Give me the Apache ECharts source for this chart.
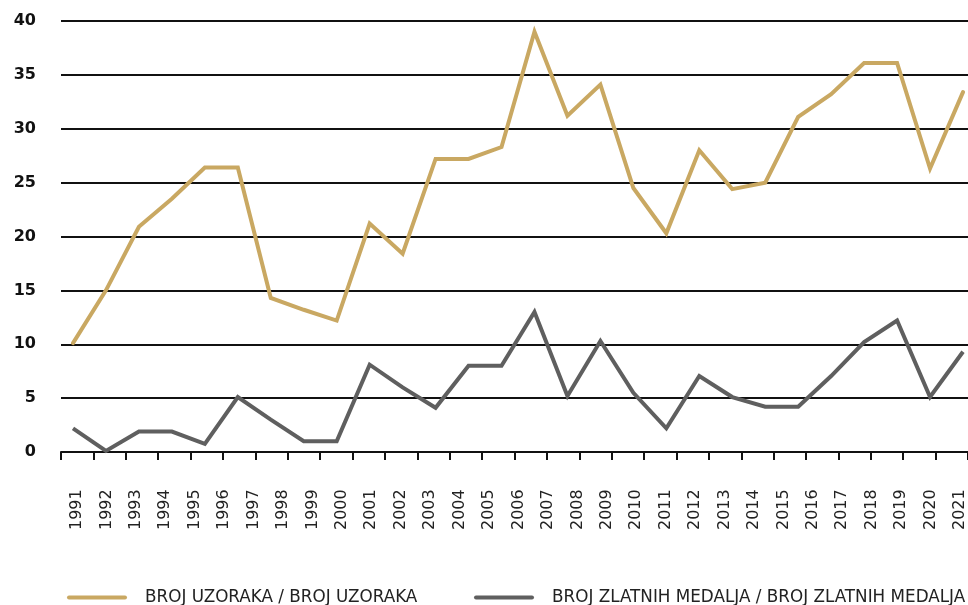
<!DOCTYPE html>
<html>
<head>
<meta charset="utf-8">
<script src="https://cdn.jsdelivr.net/npm/echarts@6/dist/echarts.min.js"></script>
<style>
  html, body { margin: 0; padding: 0; background: #fff; }
  #chart { width: 968px; height: 605px; }
</style>
</head>
<body>
<div id="chart"></div>
<script>
// Year labels shown under the axis
const years = ['1991','1992','1993','1994','1995','1996','1997','1998','1999','2000',
  '2001','2002','2003','2004','2005','2006','2007','2008','2009','2010',
  '2011','2012','2013','2014','2015','2016','2017','2018','2019','2020','2021'];

// Series values (as plotted, 28 points each)
const seriesNames = ['BROJ UZORAKA / BROJ UZORAKA', 'BROJ ZLATNIH MEDALJA / BROJ ZLATNIH MEDALJA'];
const samples = [10.1, 15.0, 20.9, 23.5, 26.4, 26.4, 14.3, 13.2, 12.2, 21.2,
  18.4, 27.2, 27.2, 28.3, 39.0, 31.2, 34.1, 24.5, 20.3, 28.0,
  24.4, 25.0, 31.1, 33.2, 36.1, 36.1, 26.3, 33.4];
const goldMedals = [2.2, 0.1, 1.9, 1.9, 0.75, 5.1, 3.0, 1.0, 1.0, 8.1,
  6.0, 4.1, 8.0, 8.0, 13.0, 5.2, 10.3, 5.5, 2.2, 7.05,
  5.1, 4.2, 4.2, 7.05, 10.2, 12.2, 5.1, 9.3];

// Axis settings
const yMin = 0, yMax = 40, yStep = 5;
const tickCount = 28;

const pointIndex = samples.map((_, i) => String(i));

const chart = echarts.init(document.getElementById('chart'), null, { renderer: 'canvas' });

const legendIcon = 'path://M2,0 L58,0 A2,2 0 0 1 58,4 L2,4 A2,2 0 0 1 2,0 Z';
const legendText = {
  color: '#222',
  fontSize: 16.8,
  fontFamily: 'DejaVu Sans',
  padding: [0, 0, 0, 13]
};

chart.setOption({
  animation: false,
  backgroundColor: '#ffffff',
  grid: [
    { left: 61, right: -12, top: 21, bottom: 153 },   // gridlines + ticks
    { left: 73, right: 5, top: 21, bottom: 153 },     // series
    { left: 77, right: 5, top: 21, bottom: 153 }      // year labels
  ],
  xAxis: [
    {
      gridIndex: 0, type: 'value', min: 0, max: tickCount, interval: 1,
      axisLine: { show: true, lineStyle: { color: '#111', width: 2 } },
      axisTick: { show: true, length: 8, lineStyle: { color: '#111', width: 2 } },
      axisLabel: { show: false },
      splitLine: { show: false }
    },
    {
      gridIndex: 1, type: 'category', data: pointIndex, boundaryGap: false,
      axisLine: { show: false }, axisTick: { show: false }, axisLabel: { show: false },
      splitLine: { show: false }
    },
    {
      gridIndex: 2, type: 'category', data: years, boundaryGap: false,
      axisLine: { show: false }, axisTick: { show: false },
      axisLabel: {
        show: true, interval: 0, rotate: 90, align: 'left', margin: 78,
        color: '#222', fontSize: 16, fontFamily: 'DejaVu Sans'
      },
      splitLine: { show: false }
    }
  ],
  yAxis: [
    {
      gridIndex: 0, type: 'value', min: yMin, max: yMax, interval: yStep,
      axisLine: { show: false }, axisTick: { show: false },
      axisLabel: {
        margin: 25, color: '#111', fontSize: 16, fontWeight: 'bold',
        fontFamily: 'DejaVu Sans'
      },
      splitLine: { show: true, lineStyle: { color: '#111', width: 2 } }
    },
    {
      gridIndex: 1, type: 'value', min: yMin, max: yMax, interval: yStep,
      show: false
    },
    {
      gridIndex: 2, type: 'value', min: yMin, max: yMax, interval: yStep,
      show: false
    }
  ],
  legend: [
    {
      data: [seriesNames[0]], left: 62, top: 584, orient: 'horizontal',
      itemWidth: 60, itemHeight: 5, icon: legendIcon, textStyle: legendText
    },
    {
      data: [seriesNames[1]], left: 469, top: 584, orient: 'horizontal',
      itemWidth: 60, itemHeight: 5, icon: legendIcon, textStyle: legendText
    }
  ],
  series: [
    {
      name: seriesNames[0], type: 'line', xAxisIndex: 1, yAxisIndex: 1,
      data: samples, showSymbol: false, symbol: 'none',
      color: '#C9A862',
      lineStyle: { color: '#C9A862', width: 4, cap: 'round', join: 'miter' },
      z: 5
    },
    {
      name: seriesNames[1], type: 'line', xAxisIndex: 1, yAxisIndex: 1,
      data: goldMedals, showSymbol: false, symbol: 'none',
      color: '#5F5F5F',
      lineStyle: { color: '#5F5F5F', width: 4, cap: 'butt', join: 'miter' },
      z: 5
    }
  ]
});
</script>
</body>
</html>
